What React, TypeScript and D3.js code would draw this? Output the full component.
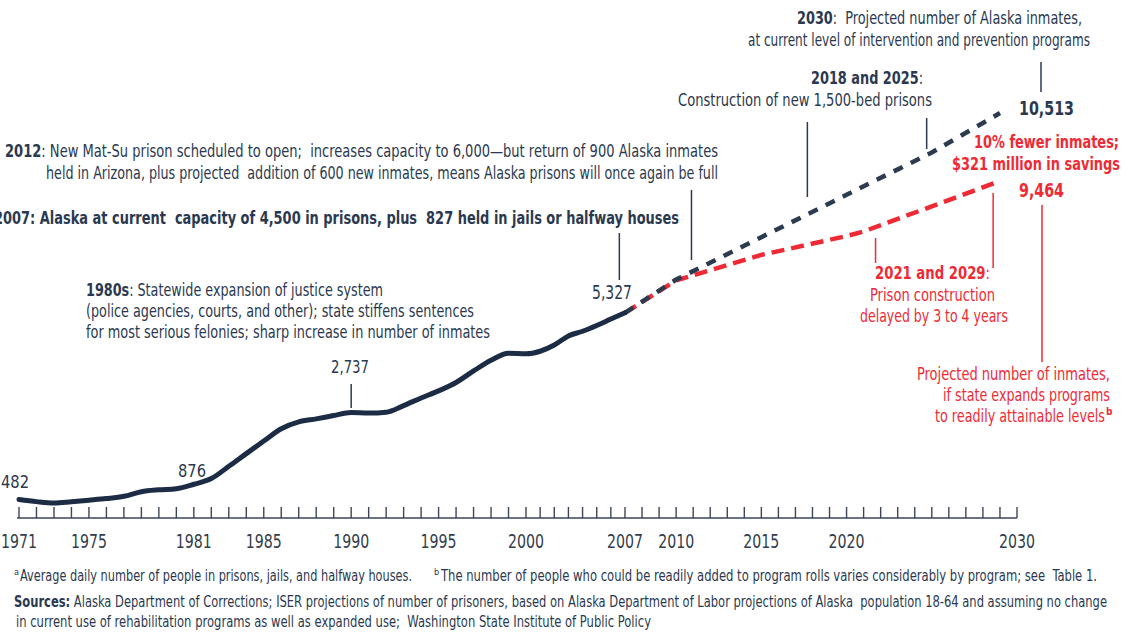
import React from "react";
import * as d3 from "d3";

// ---------- data ----------
const years = [
  1971, 1972, 1973, 1974, 1975, 1976, 1977, 1978, 1979, 1980, 1981, 1982, 1983,
  1984, 1985, 1986, 1987, 1988, 1989, 1990, 1991, 1992, 1993, 1994, 1995, 1996,
  1997, 1998, 1999, 2000, 2001, 2002, 2003, 2004, 2005, 2006, 2007,
];
const inmates = [
  482, 425, 390, 423, 462, 504, 563, 683, 732, 761, 876, 1023, 1342, 1672, 1997,
  2316, 2495, 2573, 2659, 2737, 2724, 2747, 2919, 3116, 3300, 3519, 3817, 4095,
  4279, 4261, 4329, 4492, 4726, 4848, 4999, 5165, 5327,
];
const projYears = [2007, 2010, 2015, 2020, 2025, 2029];
const projCurrent = [5327, 6190, 7290, 8390, 9490, 10513];
const progYears = [2007, 2010, 2015, 2020, 2021, 2025, 2029];
const projPrograms = [5327, 6170, 6830, 7320, 7440, 8090, 8750];
const tickLabels = [1971, 1975, 1981, 1985, 1990, 1995, 2000, 2007, 2010, 2015, 2020, 2030];

const FONT =
  "'Liberation Sans Narrow', 'Arial Narrow', 'DejaVu Sans Condensed', 'Roboto Condensed', 'Liberation Sans', sans-serif";
const DARK = "#2b3950";
const LINE = "#1d2c45";
const DASH = "#2c3b4e";
const RED = "#ee2a35";

type Part = { t: string; b?: boolean };

function T(props: {
  x: number;
  y: number;
  parts: Part[];
  w: number;
  size?: number;
  fill?: string;
}) {
  const { x, y, parts, w, size = 18, fill = DARK } = props;
  return (
    <text
      x={x}
      y={y}
      fontSize={size}
      fill={fill}
      fontFamily={FONT}
      textLength={w}
      lengthAdjust="spacingAndGlyphs"
      style={{ whiteSpace: "pre" }}
    >
      {parts.map((p, i) => (
        <tspan key={i} fontWeight={p.b ? 700 : 400}>
          {p.t}
        </tspan>
      ))}
    </text>
  );
}

export default function App() {
  const x = d3.scaleLinear().domain([1971, 2000, 2007, 2030]).range([19, 526, 625, 1017]);
  const y = d3.scaleLinear().domain([0, 11000]).range([518, 94.3]);

  const hist = years.map((yr, i) => [yr, inmates[i]] as [number, number]);
  const cur = projYears.map((yr, i) => [yr, projCurrent[i]] as [number, number]);
  const prog = progYears.map((yr, i) => [yr, projPrograms[i]] as [number, number]);

  const smooth = d3
    .line<[number, number]>()
    .x((d) => x(d[0]))
    .y((d) => y(d[1]))
    .curve(d3.curveMonotoneX);
  const straight = d3
    .line<[number, number]>()
    .x((d) => x(d[0]))
    .y((d) => y(d[1]));

  const tickYears = d3.range(1971, 2031);
  const axisY = y(0);

  const leader = (xx: number, y1: number, y2: number, c = DARK) => (
    <line x1={xx} x2={xx} y1={y1} y2={y2} stroke={c} strokeWidth={1.5} />
  );

  return (
    <svg
      width={1125}
      height={635}
      style={{ position: "absolute", left: 0, top: 0, background: "#fff" }}
    >
      <rect width={1125} height={635} fill="#fff" />

      {/* axis */}
      <line x1={x(1971) - 2} x2={x(2030)} y1={axisY} y2={axisY} stroke="#3a4656" strokeWidth={1.6} />
      {tickYears.map((t) => (
        <line key={t} x1={x(t)} x2={x(t)} y1={axisY - 11} y2={axisY} stroke="#3a4656" strokeWidth={1.4} />
      ))}
      {tickLabels.map((t) => (
        <text
          key={t}
          x={x(t) - 18}
          y={548}
          fontSize={20}
          fontFamily={FONT}
          fill="#333d4d"
          textLength={36}
          lengthAdjust="spacingAndGlyphs"
        >
          {t}
        </text>
      ))}

      {/* projections */}
      <path d={straight(prog) || ""} fill="none" stroke={RED} strokeWidth={4.5} strokeDasharray="13 7" />
      <path d={straight(cur) || ""} fill="none" stroke={DASH} strokeWidth={4.5} strokeDasharray="10 9" />
      {/* history */}
      <path d={smooth(hist) || ""} fill="none" stroke={LINE} strokeWidth={5} strokeLinecap="round" />

      {/* leader lines */}
      {leader(1041, 62, 92)}
      {leader(x(2017.7), 122, 197)}
      {leader(x(2024.7), 118, 149)}
      {leader(x(2010.9), 190, 260)}
      {leader(x(2006.6), 233, 280)}
      {leader(x(1990), 384, 408)}
      {leader(1042, 205, 362, RED)}
      {leader(x(2028.6), 193, 268, RED)}
      {leader(x(2021.7), 238, 263, RED)}

      {/* dark annotations */}
      <T x={797} y={24} w={285} parts={[{ t: "2030", b: true }, { t: ":  Projected number of Alaska inmates," }]} />
      <T x={748} y={46} w={342} parts={[{ t: "at current level of intervention and prevention programs" }]} />
      <T x={1019} y={115} w={55} size={20} parts={[{ t: "10,513", b: true }]} />
      <T x={811} y={84} w={112} parts={[{ t: "2018 and 2025", b: true }, { t: ":" }]} />
      <T x={678} y={106} w={254} parts={[{ t: "Construction of new 1,500-bed prisons" }]} />
      <T
        x={5}
        y={157}
        w={713}
        parts={[
          { t: "2012", b: true },
          { t: ": New Mat-Su prison scheduled to open;  increases capacity to 6,000\u2014but return of 900 Alaska inmates" },
        ]}
      />
      <T
        x={46}
        y={179}
        w={672}
        parts={[{ t: "held in Arizona, plus projected  addition of 600 new inmates, means Alaska prisons will once again be full" }]}
      />
      <T
        x={-6}
        y={224}
        w={685}
        parts={[{ t: "2007: Alaska at current  capacity of 4,500 in prisons, plus  827 held in jails or halfway houses", b: true }]}
      />
      <T x={592} y={299} w={40} size={19} parts={[{ t: "5,327" }]} />
      <T x={86} y={296} w={297} parts={[{ t: "1980s", b: true }, { t: ": Statewide expansion of justice system" }]} />
      <T x={86} y={317} w={388} parts={[{ t: "(police agencies, courts, and other); state stiffens sentences" }]} />
      <T x={86} y={338} w={404} parts={[{ t: "for most serious felonies; sharp increase in number of inmates" }]} />
      <T x={331} y={373} w={38} parts={[{ t: "2,737" }]} />
      <T x={178} y={477} w={28} parts={[{ t: "876" }]} />
      <T x={1} y={488} w={28} parts={[{ t: "482" }]} />

      {/* red annotations */}
      <T x={974} y={148} w={145} fill={RED} parts={[{ t: "10% fewer inmates;", b: true }]} />
      <T x={952} y={170} w={168} fill={RED} parts={[{ t: "$321 million in savings", b: true }]} />
      <T x={1019} y={197} w={45} size={20} fill={RED} parts={[{ t: "9,464", b: true }]} />
      <T x={875} y={279} w={115} fill={RED} parts={[{ t: "2021 and 2029", b: true }, { t: ":" }]} />
      <T x={870} y={301} w={125} fill={RED} parts={[{ t: "Prison construction" }]} />
      <T x={860} y={322} w={148} fill={RED} parts={[{ t: "delayed by 3 to 4 years" }]} />
      <T x={917} y={380} w={193} fill={RED} parts={[{ t: "Projected number of inmates," }]} />
      <T x={943} y={401} w={167} fill={RED} parts={[{ t: "if state expands programs" }]} />
      <T x={935} y={422} w={170} fill={RED} parts={[{ t: "to readily attainable levels" }]} />
      <text x={1106} y={415} fontSize={10} fill={RED} fontFamily={FONT} fontWeight={700}>
        b
      </text>

      {/* footnotes */}
      <text x={14} y={575} fontSize={9} fill={DARK} fontFamily={FONT}>
        a
      </text>
      <T x={20} y={581} w={392} size={15} parts={[{ t: "Average daily number of people in prisons, jails, and halfway houses." }]} />
      <text x={434} y={575} fontSize={9} fill={DARK} fontFamily={FONT}>
        b
      </text>
      <T
        x={441}
        y={581}
        w={656}
        size={15}
        parts={[{ t: "The number of people who could be readily added to program rolls varies considerably by program; see  Table 1." }]}
      />
      <T
        x={14}
        y={607}
        w={1093}
        size={15}
        parts={[
          { t: "Sources:", b: true },
          { t: " Alaska Department of Corrections; ISER projections of number of prisoners, based on Alaska Department of Labor projections of Alaska  population 18-64 and assuming no change" },
        ]}
      />
      <T
        x={16}
        y={627}
        w={635}
        size={15}
        parts={[{ t: "in current use of rehabilitation programs as well as expanded use;  Washington State Institute of Public Policy" }]}
      />
    </svg>
  );
}
